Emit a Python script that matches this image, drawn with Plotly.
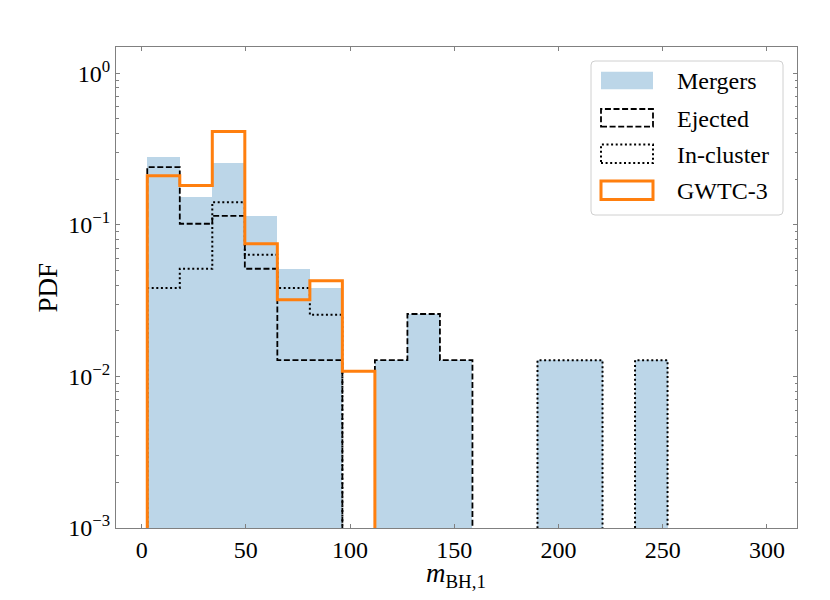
import plotly.graph_objects as go

# ---------------- data ----------------
bin_edges = [2.7, 18.3, 33.9, 49.5, 65.1, 80.7, 96.3, 111.9, 127.5, 143.1,
             158.7, 174.3, 189.9, 205.5, 221.1, 236.7, 252.3]
mergers = [0.279, 0.152, 0.255, 0.1146, 0.051, 0.0383, 0, 0.0128, 0.0258, 0.0128,
           0, 0, 0.0128, 0.0128, 0, 0.0128]
ejected = [0.240, 0.1016, 0.1146, 0.0513, 0.0128, 0.0128, 0, 0.0128, 0.0258, 0.0128,
           0, 0, 0, 0, 0, 0]
in_cluster = [0.0383, 0.0513, 0.141, 0.0634, 0.0383, 0.0255, 0, 0, 0, 0,
              0, 0, 0.0128, 0.0128, 0, 0.0128]
gwtc3 = [0.211, 0.1816, 0.412, 0.075, 0.032, 0.0428, 0.0108, 0, 0, 0,
         0, 0, 0, 0, 0, 0]

x_tick_vals = [0, 50, 100, 150, 200, 250, 300]
y_tick_vals = [1e-3, 1e-2, 1e-1, 1]
y_tick_text = ["10<sup>−3</sup>", "10<sup>−2</sup>", "10<sup>−1</sup>", "10<sup>0</sup>"]
legend_labels = ["Mergers", "Ejected", "In-cluster", "GWTC-3"]
x_title = "<i>m</i><sub>BH,1</sub>"
y_title = "PDF"

# ---------------- styles ----------------
OFF = 8                      # page body margin of the html page
W, H = 830 - OFF, 600 - OFF
L, R, T, B = 116 - OFF, 797 - OFF, 47 - OFF, 528 - OFF
FONT = "Liberation Serif"
FS = 24
FS_TITLE = 27
BLUE_FILL = "#bcd6e8"
ORANGE = "#ff7f0e"
FRAME = "#808080"
FLOOR = 1e-6
DASH = "6px,2.6px"
DOT = "2px,2.6px"


def step_xy(edges, vals):
    xs, ys = [edges[0]], [FLOOR]
    for i, v in enumerate(vals):
        vv = v if v > 0 else FLOOR
        xs += [edges[i], edges[i + 1]]
        ys += [vv, vv]
    xs.append(edges[-1])
    ys.append(FLOOR)
    return xs, ys


def px_x(p):  # screen pixel -> paper
    return (p - OFF - L) / (R - L)


def px_y(p):
    return (B - (p - OFF)) / (B - T)


fig = go.Figure()

centers = [(bin_edges[i] + bin_edges[i + 1]) / 2 for i in range(len(mergers))]
widths = [bin_edges[i + 1] - bin_edges[i] for i in range(len(mergers))]
fig.add_trace(go.Bar(
    x=centers, y=[v if v > 0 else None for v in mergers], width=widths,
    marker=dict(color=BLUE_FILL, line=dict(width=0)), showlegend=False,
))

ex, ey = step_xy(bin_edges, ejected)
fig.add_trace(go.Scatter(x=ex, y=ey, mode="lines", showlegend=False,
                         line=dict(color="black", width=1.8, dash=DASH)))
ix, iy = step_xy(bin_edges, in_cluster)
fig.add_trace(go.Scatter(x=ix, y=iy, mode="lines", showlegend=False,
                         line=dict(color="black", width=2, dash=DOT)))
gx, gy = step_xy(bin_edges, gwtc3)
fig.add_trace(go.Scatter(x=gx, y=gy, mode="lines", showlegend=False,
                         line=dict(color=ORANGE, width=3)))

minor_vals = [k * 10 ** e for e in range(-3, 1) for k in range(2, 10)]

fig.update_layout(
    width=W, height=H,
    margin=dict(l=L, r=W - R, t=T, b=H - B, pad=0),
    plot_bgcolor="white", paper_bgcolor="white",
    bargap=0,
    font=dict(family=FONT, size=FS, color="black"),
    xaxis=dict(
        range=[-12.3, 314.4], tickvals=x_tick_vals,
        ticks="inside", ticklen=4, tickcolor=FRAME, tickwidth=1,
        showline=True, linecolor=FRAME, linewidth=1, mirror="ticks",
        showgrid=False, zeroline=False,
    ),
    yaxis=dict(
        type="log", range=[-3, 0.173],
        tickvals=y_tick_vals, ticktext=y_tick_text,
        ticks="inside", ticklen=4, tickcolor=FRAME, tickwidth=1,
        minor=dict(tickvals=minor_vals, ticks="inside", ticklen=2.5,
                   tickcolor=FRAME, tickwidth=0.8, showgrid=False),
        showline=True, linecolor=FRAME, linewidth=1, mirror="ticks",
        showgrid=False, zeroline=False,
    ),
)

# axis titles
fig.add_annotation(x=px_x(456), y=px_y(575), xref="paper", yref="paper",
                   text=x_title, showarrow=False, xanchor="center", yanchor="middle",
                   font=dict(family=FONT, size=FS_TITLE, color="black"))
fig.add_annotation(x=px_x(47.5), y=px_y(288), xref="paper", yref="paper",
                   text=y_title, showarrow=False, textangle=-90,
                   xanchor="center", yanchor="middle",
                   font=dict(family=FONT, size=FS_TITLE, color="black"))

# ---------------- legend (drawn manually to mimic matplotlib patches) ----------------
bx0, bx1, by0, by1 = 591, 783, 61, 215
r = 4
rx, ry = r / (R - L), r / (B - T)
X0, X1, Y0, Y1 = px_x(bx0), px_x(bx1), px_y(by1), px_y(by0)
path = (f"M {X0+rx},{Y0} L {X1-rx},{Y0} Q {X1},{Y0} {X1},{Y0+ry} "
        f"L {X1},{Y1-ry} Q {X1},{Y1} {X1-rx},{Y1} L {X0+rx},{Y1} "
        f"Q {X0},{Y1} {X0},{Y1-ry} L {X0},{Y0+ry} Q {X0},{Y0} {X0+rx},{Y0} Z")
fig.add_shape(type="path", path=path, xref="paper", yref="paper",
              fillcolor="rgba(255,255,255,0.8)", line=dict(color="#d0d0d0", width=1))

patch_x0, patch_x1 = 601, 653
rows = [(71.7, 89.3), (109, 126.7), (144.5, 163), (181, 199.5)]
styles = [
    dict(fillcolor=BLUE_FILL, line=dict(width=0)),
    dict(fillcolor="rgba(0,0,0,0)", line=dict(color="black", width=1.8, dash=DASH)),
    dict(fillcolor="rgba(0,0,0,0)", line=dict(color="black", width=2, dash=DOT)),
    dict(fillcolor="rgba(0,0,0,0)", line=dict(color=ORANGE, width=3)),
]
for (y0, y1), st, lab in zip(rows, styles, legend_labels):
    fig.add_shape(type="rect", xref="paper", yref="paper",
                  x0=px_x(patch_x0), x1=px_x(patch_x1), y0=px_y(y1), y1=px_y(y0), **st)
    fig.add_annotation(x=px_x(675), y=px_y((y0 + y1) / 2 + 1), xref="paper", yref="paper",
                       text=lab, showarrow=False, xanchor="left", yanchor="middle",
                       font=dict(family=FONT, size=FS, color="black"))

fig.write_html("out.html")
